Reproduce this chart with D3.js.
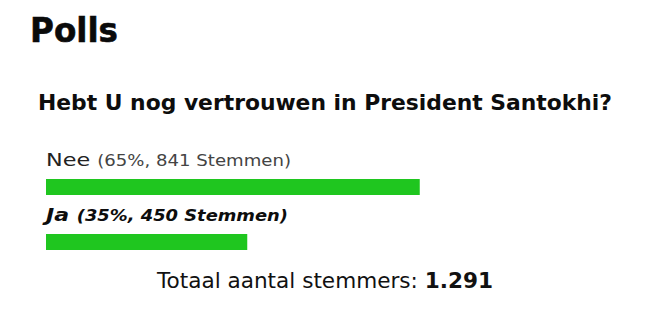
<!DOCTYPE html>
<html>
<head>
<meta charset="utf-8">
<script src="https://cdn.jsdelivr.net/npm/d3@7"></script>
<style>
  html, body { margin: 0; padding: 0; background: #fff; }
  svg { display: block; }
</style>
</head>
<body>
<div id="display"></div>
<script>
// poll data
const title = "Polls";
const question = "Hebt U nog vertrouwen in President Santokhi?";
const answers = ["Nee", "Ja"];
const votes = [841, 450];
const percents = [65, 35];
const totalLabel = "Totaal aantal stemmers: ";
const totalText = "1.291";

const width = 654;
const height = 321;
const font = "'DejaVu Sans', sans-serif";
const green = "#1fc61f";

const svg = d3.select('#display').append('svg')
    .attr('width', width)
    .attr('height', height)
    .style('font-family', font);

// the original font is much wider than DejaVu, so stretch each line to its width
function stretch(sel, w) {
    sel.attr('textLength', w).attr('lengthAdjust', 'spacingAndGlyphs');
}

svg.append('text')
    .attr('x', 30).attr('y', 42)
    .attr('font-size', 34).attr('font-weight', 900)
    .attr('fill', '#0a0a0a')
    .attr('stroke', '#0a0a0a').attr('stroke-width', 0.6)
    .text(title)
    .call(stretch, 88);

svg.append('text')
    .attr('x', 38).attr('y', 110)
    .attr('font-size', 20.5).attr('font-weight', 'bold')
    .attr('fill', '#0d0d0d')
    .text(question)
    .call(stretch, 574);

// bar scale: 0..100% over the poll track
const x = d3.scaleLinear().domain([0, 100]).range([46, 621]);
const y = d3.scaleBand().domain(answers).range([140, 250]).paddingInner(0);

const rows = svg.selectAll('g.row')
    .data(answers.map((a, i) => ({ answer: a, votes: votes[i], pct: percents[i], voted: i === 1 })))
    .enter()
    .append('g')
    .attr('class', 'row');

const label = rows.append('text')
    .attr('x', x(0))
    .attr('y', d => y(d.answer) + 26)
    .attr('fill', d => d.voted ? '#0d0d0d' : '#222')
    .attr('font-weight', d => d.voted ? 'bold' : 'normal')
    .attr('font-style', d => d.voted ? 'italic' : 'normal')
    .each(function (d) {
        d3.select(this).call(stretch, d.voted ? 242 : 245);
    });

label.append('tspan')
    .attr('font-size', 18.5)
    .text(d => d.answer + ' ');

label.append('tspan')
    .attr('font-size', 15)
    .attr('fill', d => d.voted ? '#0d0d0d' : '#444')
    .text(d => '(' + d.pct + '%, ' + d.votes + ' Stemmen)');

rows.append('rect')
    .attr('x', x(0))
    .attr('y', d => y(d.answer) + 39)
    .attr('width', d => x(d.pct) - x(0))
    .attr('height', 16)
    .attr('fill', green);

const total = svg.append('text')
    .attr('x', 157).attr('y', 288)
    .attr('font-size', 21)
    .attr('fill', '#111')
    .call(stretch, 336);
total.append('tspan').text(totalLabel);
total.append('tspan').attr('font-weight', 'bold').text(totalText);
</script>
</body>
</html>
